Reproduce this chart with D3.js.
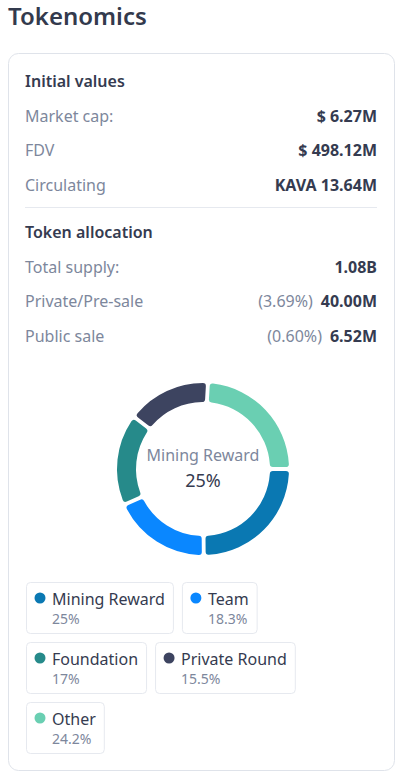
<!DOCTYPE html>
<html>
<head>
<meta charset="utf-8">
<script src="https://cdn.jsdelivr.net/npm/d3@7"></script>
<style>
  html, body { margin: 0; padding: 0; background: #fff; }
  svg { display: block; font-family: "Noto Sans", "Open Sans", sans-serif; }
</style>
</head>
<body>
<div id="chart"></div>
<script>
// rows of the info table
const initialLabels = ["Market cap:", "FDV", "Circulating"];
const initialValues = ["$ 6.27M", "$ 498.12M", "KAVA 13.64M"];
const allocLabels = ["Total supply:", "Private/Pre-sale", "Public sale"];
const allocShares = ["", "(3.69%)", "(0.60%)"];
const allocValues = ["1.08B", "40.00M", "6.52M"];

// donut data
const categories = ["Mining Reward", "Team", "Foundation", "Private Round", "Other"];
const percents = [25, 18.3, 17, 15.5, 24.2];
const colors = ["#0a78b2", "#0a87ff", "#268a8a", "#3d4460", "#6acfb2"];

const W = 407, H = 780;
const textDark = "#353b50", textGray = "#7d879c";

let svg = d3.select("#chart")
    .append("svg")
    .attr("width", W)
    .attr("height", H);

// title
svg.append("text")
    .attr("x", 8).attr("y", 25)
    .attr("font-size", 24).attr("font-weight", 600)
    .attr("fill", "#333a4d")
    .text("Tokenomics");

// card
svg.append("rect")
    .attr("x", 8.5).attr("y", 53.5)
    .attr("width", 386).attr("height", 717)
    .attr("rx", 10)
    .attr("fill", "#fff").attr("stroke", "#dfe3ea");

const left = 25, right = 377;

function section(title, y0, labels, values, shares) {
    svg.append("text")
        .attr("x", left).attr("y", y0)
        .attr("font-size", 16).attr("font-weight", 600)
        .attr("fill", textDark)
        .text(title);
    labels.forEach(function (l, i) {
        let y = y0 + 34.5 * (i + 1);
        svg.append("text")
            .attr("x", left).attr("y", y)
            .attr("font-size", 16).attr("fill", textGray)
            .text(l);
        let t = svg.append("text")
            .attr("x", right).attr("y", y)
            .attr("text-anchor", "end")
            .attr("font-size", 16);
        if (shares && shares[i]) {
            t.append("tspan").attr("fill", textGray).text(shares[i]);
            t.append("tspan").attr("dx", 8).attr("fill", textDark).attr("font-weight", 700).text(values[i]);
        } else {
            t.append("tspan").attr("fill", textDark).attr("font-weight", 700).text(values[i]);
        }
    });
}

section("Initial values", 87, initialLabels, initialValues);

svg.append("line")
    .attr("x1", left).attr("x2", right)
    .attr("y1", 207.5).attr("y2", 207.5)
    .attr("stroke", "#e6e9ef");

section("Token allocation", 238, allocLabels, allocValues, allocShares);

// donut
const cx = 203, cy = 469, rOuter = 86, rInner = 67;
const pie = d3.pie()
    .sort(null)
    .startAngle(Math.PI / 2)
    .endAngle(Math.PI / 2 + 2 * Math.PI)
    .padAngle(0.035);
const arc = d3.arc()
    .innerRadius(rInner)
    .outerRadius(rOuter)
    .cornerRadius(3);

let g = svg.append("g").attr("transform", "translate(" + cx + "," + cy + ")");
g.selectAll("path")
    .data(pie(percents))
    .join("path")
    .attr("d", arc)
    .attr("fill", function (d, i) { return colors[i]; });

g.append("text")
    .attr("y", -8).attr("text-anchor", "middle")
    .attr("font-size", 16).attr("fill", textGray)
    .text(categories[0]);
g.append("text")
    .attr("y", 18).attr("text-anchor", "middle")
    .attr("font-size", 18).attr("fill", textDark)
    .text(percents[0] + "%");

// legend, boxes wrap inside the card
let lx = 26, ly = 582;
const boxH = 51, gap = 9, maxX = 378;
categories.forEach(function (c, i) {
    let item = svg.append("g");
    let label = item.append("text")
        .attr("x", 26).attr("y", 23)
        .attr("font-size", 16).attr("fill", textDark)
        .text(c);
    let pct = item.append("text")
        .attr("x", 26).attr("y", 42)
        .attr("font-size", 14).attr("fill", textGray)
        .text(percents[i] + "%");
    let w = 26 + Math.max(label.node().getComputedTextLength(), pct.node().getComputedTextLength()) + 8;
    if (lx + w > maxX) { lx = 26; ly += boxH + gap; }
    item.attr("transform", "translate(" + lx + "," + ly + ")");
    item.insert("rect", "text")
        .attr("x", 0.5).attr("y", 0.5)
        .attr("width", w).attr("height", boxH)
        .attr("rx", 4)
        .attr("fill", "#fff").attr("stroke", "#e6e9ef");
    item.append("circle")
        .attr("cx", 14).attr("cy", 16).attr("r", 5.5)
        .attr("fill", colors[i]);
    lx += w + gap;
});
</script>
</body>
</html>
